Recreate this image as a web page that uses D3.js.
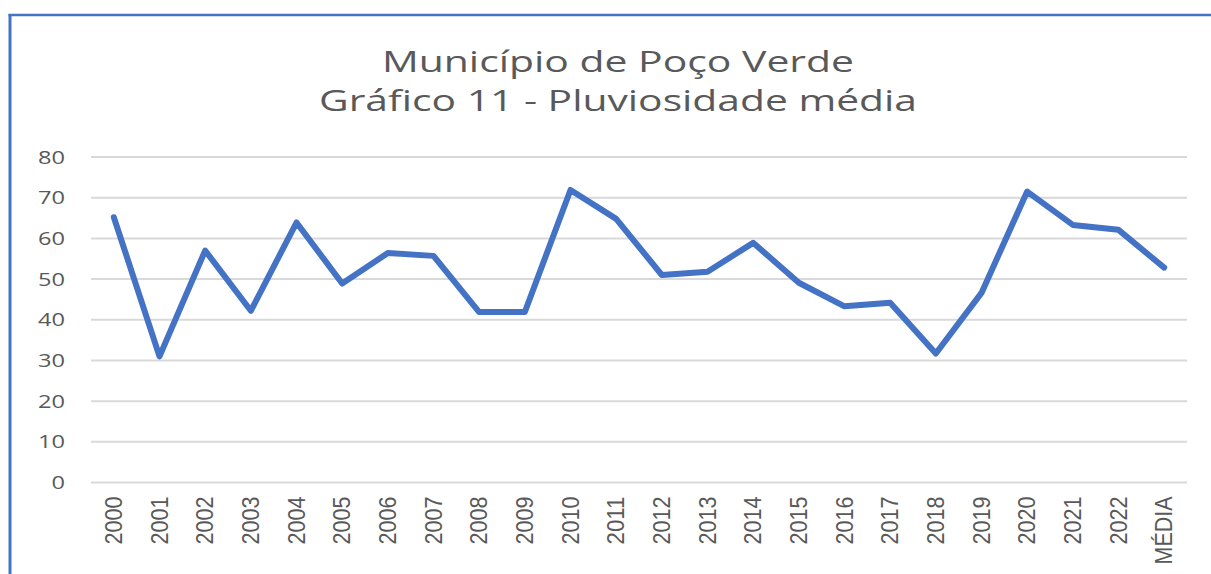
<!DOCTYPE html>
<html>
<head>
<meta charset="utf-8">
<title>Pluviosidade média - Poço Verde</title>
<style>
  body { margin: 0; background: #fff; }
  svg { display: block; }
</style>
</head>
<body>
<script src="https://d3js.org/d3.v7.min.js"></script>
<script>
// data
var years = ["2000","2001","2002","2003","2004","2005","2006","2007","2008","2009","2010","2011",
             "2012","2013","2014","2015","2016","2017","2018","2019","2020","2021","2022","MÉDIA"];
var rainfall = [65.2, 31.0, 57.0, 42.2, 63.9, 48.9, 56.4, 55.7, 41.9, 41.9, 71.9, 64.8,
                51.0, 51.8, 58.9, 49.1, 43.3, 44.2, 31.7, 46.6, 71.5, 63.3, 62.1, 52.8];
var yTicks = [0, 10, 20, 30, 40, 50, 60, 70, 80];
var titleLines = ["Município de Poço Verde", "Gráfico 11 - Pluviosidade média"];

var W = 1211, H = 574;
var plotLeft = 91, plotRight = 1187, plotTop = 157, plotBottom = 482.5;
var grey = "#595959";

var svg = d3.select("body").append("svg")
    .attr("width", W)
    .attr("height", H);

// frame (blue border on top and left)
svg.append("line").attr("x1", 8.5).attr("x2", W).attr("y1", 15).attr("y2", 15)
    .attr("stroke", "#4472c4").attr("stroke-width", 2.5);
svg.append("line").attr("x1", 10).attr("x2", 10).attr("y1", 14).attr("y2", H)
    .attr("stroke", "#4472c4").attr("stroke-width", 3);

var x = d3.scaleBand().domain(years).range([plotLeft, plotRight]).padding(0);
var y = d3.scaleLinear().domain([0, 80]).range([plotBottom, plotTop]);

// title
var titleWidths = [472, 598];
svg.selectAll(".title")
    .data(titleLines)
  .enter().append("text")
    .attr("class", "title")
    .attr("x", 618)
    .attr("y", function(d, i) { return 72 + i * 39; })
    .attr("text-anchor", "middle")
    .attr("font-family", "'Open Sans', sans-serif")
    .attr("font-size", 29)
    .attr("fill", grey)
    .attr("textLength", function(d, i) { return titleWidths[i]; })
    .attr("lengthAdjust", "spacingAndGlyphs")
    .text(function(d) { return d; });

// gridlines
svg.append("g")
    .selectAll("line")
    .data(yTicks)
  .enter().append("line")
    .attr("x1", plotLeft).attr("x2", plotRight)
    .attr("y1", function(d) { return y(d); })
    .attr("y2", function(d) { return y(d); })
    .attr("stroke", "#d9d9d9")
    .attr("stroke-width", 2);

// y axis labels
var yAxis = svg.append("g")
    .attr("transform", "translate(" + (plotLeft - 26) + ",0)")
    .call(d3.axisLeft(y).tickValues(yTicks).tickSize(0).tickPadding(0));
yAxis.select(".domain").remove();
yAxis.selectAll("text")
    .attr("font-family", "'Open Sans', sans-serif")
    .attr("font-size", 19)
    .attr("fill", grey)
    .attr("textLength", function(d) { return String(d).length * 13.5; })
    .attr("lengthAdjust", "spacingAndGlyphs");

// x axis labels, rotated (condensed look)
var xAxis = svg.append("g")
    .attr("transform", "translate(0," + (plotBottom + 14) + ")")
    .call(d3.axisBottom(x).tickSize(0).tickPadding(0));
xAxis.select(".domain").remove();
xAxis.selectAll("text")
    .attr("font-family", "'Liberation Sans Narrow', 'Liberation Sans', sans-serif")
    .attr("font-size", 23)
    .attr("fill", grey)
    .attr("text-anchor", "end")
    .attr("dy", "0.36em")
    .attr("textLength", function(d) { return d === "MÉDIA" ? 68 : 48; })
    .attr("lengthAdjust", "spacingAndGlyphs")
    .attr("transform", "rotate(-90)");

// the series line
var line = d3.line()
    .x(function(d, i) { return x(years[i]) + x.bandwidth() / 2; })
    .y(function(d) { return y(d); });

svg.append("path")
    .datum(rainfall)
    .attr("d", line)
    .attr("fill", "none")
    .attr("stroke", "#4472c4")
    .attr("stroke-width", 6)
    .attr("stroke-linejoin", "round")
    .attr("stroke-linecap", "round");
</script>
</body>
</html>
